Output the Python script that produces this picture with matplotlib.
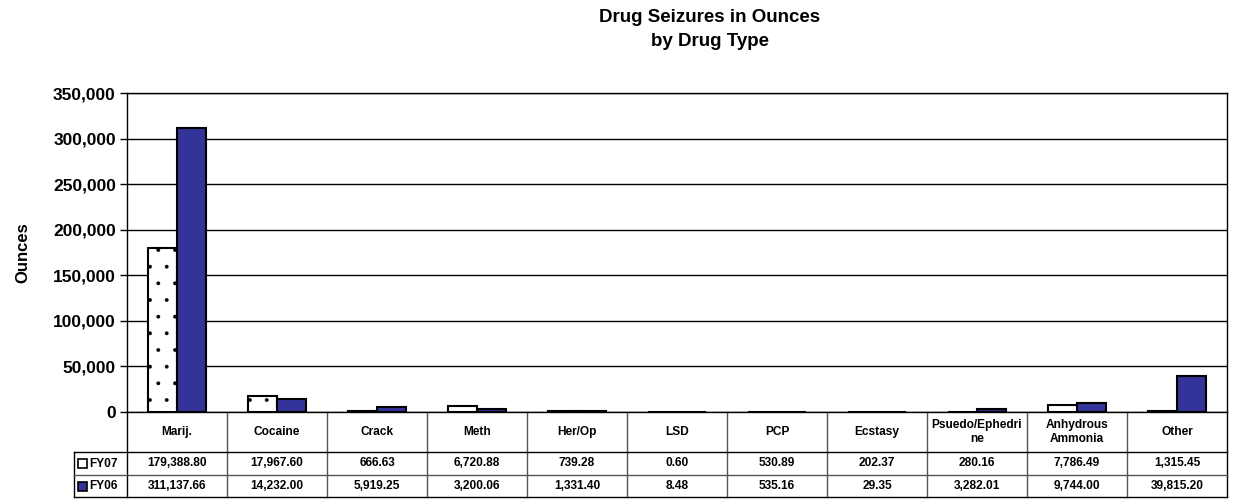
import matplotlib
matplotlib.use("Agg")
import matplotlib.pyplot as plt
import numpy as np
from matplotlib.transforms import blended_transform_factory
from matplotlib.patches import Rectangle
from matplotlib.ticker import FuncFormatter

plt.rcParams['font.family'] = ['Liberation Sans', 'DejaVu Sans']
plt.rcParams['hatch.linewidth'] = 0.3
plt.rcParams['hatch.color'] = '#444444'

categories = ["Marij.", "Cocaine", "Crack", "Meth", "Her/Op", "LSD", "PCP", "Ecstasy",
              "Psuedo/Ephedri\nne", "Anhydrous\nAmmonia", "Other"]
fy07 = [179388.80, 17967.60, 666.63, 6720.88, 739.28, 0.60, 530.89, 202.37, 280.16, 7786.49, 1315.45]
fy06 = [311137.66, 14232.00, 5919.25, 3200.06, 1331.40, 8.48, 535.16, 29.35, 3282.01, 9744.00, 39815.20]
series_names = ["FY07", "FY06"]
yticks = [0, 50000, 100000, 150000, 200000, 250000, 300000, 350000]

W, H = 1235, 499
fig = plt.figure(figsize=(W/100, H/100), dpi=100)
L, R, T, B = 127, 1227, 93, 412
ax = fig.add_axes([L/W, 1-B/H, (R-L)/W, (B-T)/H])

n = len(categories)
x = np.arange(n)
bw = 0.29
blue = '#333399'
ax.bar(x - bw/2, fy07, bw, color='white', edgecolor='black', linewidth=1.5, hatch='.', zorder=3)
ax.bar(x + bw/2, fy06, bw, color=blue, edgecolor='black', linewidth=1.5, zorder=3)

ax.set_xlim(-0.5, n-0.5)
ax.set_ylim(0, 350000)
ax.set_yticks(yticks)
ax.yaxis.set_major_formatter(FuncFormatter(lambda v, p: f"{int(v):,}"))
for lab in ax.get_yticklabels():
    lab.set_fontweight('bold')
ax.tick_params(axis='y', labelsize=12.5, length=5, width=1, direction='out', pad=3)
ax.set_xticks([])
ax.grid(axis='y', color='black', linewidth=1, zorder=0)
for s in ax.spines.values():
    s.set_linewidth(1)
    s.set_color('black')
ax.set_ylabel("Ounces", fontsize=12, fontweight='bold')
ax.yaxis.set_label_coords(-0.088, 0.5)

# data table
trans = blended_transform_factory(ax.transData, ax.transAxes)
ph = B - T
y_h = -40/ph
y_r1 = -63/ph
y_r2 = -85/ph
lab_left = -0.5 - (L-74)/((R-L)/n)

lc = '#555555'
for i in range(n+1):
    ax.plot([i-0.5, i-0.5], [0, y_r2], transform=trans, color='black' if i in (0, n) else lc,
            lw=1, clip_on=False)
ax.plot([lab_left, lab_left], [y_h, y_r2], transform=trans, color='black', lw=1, clip_on=False)
for yy, c in [(y_h, 'black'), (y_r1, lc), (y_r2, 'black')]:
    ax.plot([lab_left, n-0.5], [yy, yy], transform=trans, color=c, lw=1, clip_on=False)

fs = 8.6
for i, c in enumerate(categories):
    ax.text(i, y_h/2, c, transform=trans, ha='center', va='center', fontsize=fs,
            fontweight='bold', linespacing=1.25)
    ax.text(i, (y_h+y_r1)/2, f"{fy07[i]:,.2f}", transform=trans, ha='center', va='center',
            fontsize=fs, fontweight='bold')
    ax.text(i, (y_r1+y_r2)/2, f"{fy06[i]:,.2f}", transform=trans, ha='center', va='center',
            fontsize=fs, fontweight='bold')

for name, yc, fc in [(series_names[0], (y_h+y_r1)/2, 'white'), (series_names[1], (y_r1+y_r2)/2, blue)]:
    fx = 78/W
    fy = ax.transAxes.transform((0, yc))[1]/fig.dpi/(H/100)
    fig.patches.append(Rectangle((fx, fy - 4.5/H), 9/W, 9/H, transform=fig.transFigure,
                                 facecolor=fc, edgecolor='black', lw=1.2))
    fig.text(89/W, fy, name, ha='left', va='center', fontsize=fs, fontweight='bold')

fig.text(710/W, 1-18/H, "Drug Seizures in Ounces", ha='center', va='center', fontsize=13.5, fontweight='bold')
fig.text(710/W, 1-42/H, "by Drug Type", ha='center', va='center', fontsize=13.5, fontweight='bold')

fig.savefig("out.png", dpi=100)
